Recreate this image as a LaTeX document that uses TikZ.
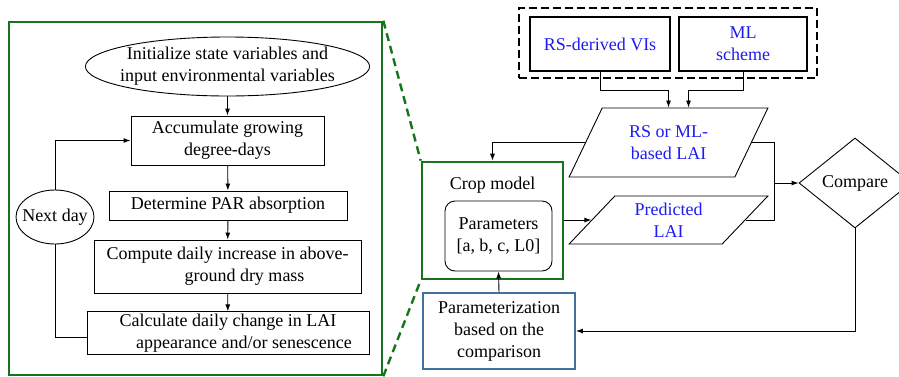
\documentclass[tikz,border=0pt]{standalone}
\usepackage{fontspec}
\setmainfont{Liberation Serif}
\usepackage{xcolor}
\usepackage{tikz}
\usetikzlibrary{arrows.meta, positioning, shapes.geometric, calc}
\definecolor{modelgreen}{HTML}{16751A}
\definecolor{inputblue}{HTML}{1C1CF2}
\definecolor{paramblue}{HTML}{41719C}

\begin{document}
\begin{tikzpicture}[x=1pt, y=-1pt,
    every node/.style={font={\fontsize{18}{22}\selectfont}, align=center},
    box/.style={draw, line width=0.9pt, inner sep=2pt},
    oval/.style={draw, ellipse, line width=0.9pt},
    src/.style={draw, line width=2.4pt, text=inputblue},
    data/.style={draw, trapezium, trapezium stretches=true, line width=0.9pt, text=inputblue, inner sep=0pt},
    frame/.style={draw=modelgreen, line width=2.6pt, inner sep=0pt},
    arr/.style={-{Latex[length=7pt, width=5pt]}, line width=0.9pt},
    ln/.style={line width=0.9pt},
    zoomline/.style={draw=modelgreen, line width=2.4pt, dash pattern=on 8pt off 5pt},
]
\useasboundingbox (0,0) rectangle (899,376);
\clip (0,0) rectangle (899,376);

% Crop model detail
\node[frame, minimum width=373pt, minimum height=353pt] (detail) at (195.5,198.5) {};
\node[oval, minimum width=267pt, minimum height=59pt, inner xsep=-7pt, inner ysep=0pt] (init) at (227.5,66.5) {Initialize state variables and\\input environmental variables};
\node[box, minimum width=193pt, minimum height=49pt] (acc) at (227.5,140.5) {Accumulate growing\\degree-days};
\node[box, minimum width=238pt, minimum height=29pt] (par) at (228,205.5) {Determine PAR absorption};
\node[box, minimum width=267pt, minimum height=53pt] (comp) at (227.5,266.5) {Compute daily increase in above-\\\hspace*{34pt}ground dry mass};
\node[box, minimum width=282pt, minimum height=42pt] (calc) at (228,333) {Calculate daily change in LAI\\\hspace*{32pt}appearance and/or senescence};
\node[oval, minimum width=78pt, minimum height=54pt, inner xsep=-6pt] (next) at (55,217) {Next day};

\draw[arr] (init) -- (acc);
\draw[arr] (acc) -- (par);
\draw[arr] (par) -- (comp);
\draw[arr] (comp) -- (calc);
\draw[ln] ([yshift=-4pt]calc.west) -| (next.south);
\draw[arr] (next.north) |- (acc.west);

% Inputs
\node[draw, line width=2.8pt, dash pattern=on 8pt off 4pt, minimum width=298pt, minimum height=70pt] (inputs) at (668,43) {};
\node[src, minimum width=140pt, minimum height=54pt] (vis) at (600,44) {RS-derived VIs};
\node[src, minimum width=128pt, minimum height=54pt] (ml) at (743,44) {ML\\scheme};

% LAI data
\node[data, trapezium left angle=60, trapezium right angle=120, minimum width=199pt, minimum height=69pt] (rslai) at (668.5,142.5) {RS or ML-\\based LAI};
\node[data, trapezium left angle=50, trapezium right angle=130, minimum width=199pt, minimum height=48pt] (pred) at (668.5,220) {Predicted\\LAI};

% Crop model
\node[frame, minimum width=141pt, minimum height=117pt] (crop) at (492.5,220.5) {};
\node (croplbl) at (492.5,185) {Crop model};
\node[box, rounded corners=10pt, minimum width=107pt, minimum height=70pt] (params) at (498.5,236) {Parameters\\{[a, b, c, L0]}};
\node[draw=paramblue, line width=1.8pt, minimum width=152pt, minimum height=76pt, inner sep=1pt] (param) at (499,331) {Parameterization\\based on the\\comparison};

% Compare
\node[draw, diamond, line width=0.9pt, minimum width=112pt, minimum height=90pt, inner sep=0pt, aspect=1.2] (cmp) at (855,183) {Compare};
\coordinate (join) at (774,183);

% Arrows
\draw[arr] (vis.south) -- ++(0,18) -| (rslai.north);
\draw[arr] (ml.south) -- ++(0,18) -| ([xshift=20pt]rslai.north);
\draw[arr] (rslai.west) -| (crop.north);
\draw[arr] (crop.east |- pred.west) -- (pred.west);
\draw[ln] (rslai.east) -| (join);
\draw[ln] (pred.east) -| (join);
\draw[arr] (join) -- (cmp.west);
\draw[arr] (cmp.south) |- (param.east);
\draw[arr] (param.north) -- (params.south);

% Zoom lines
\draw[zoomline] (detail.north east) -- (crop.north west);
\draw[zoomline] (detail.south east) -- (crop.south west);

\end{tikzpicture}
\end{document}
